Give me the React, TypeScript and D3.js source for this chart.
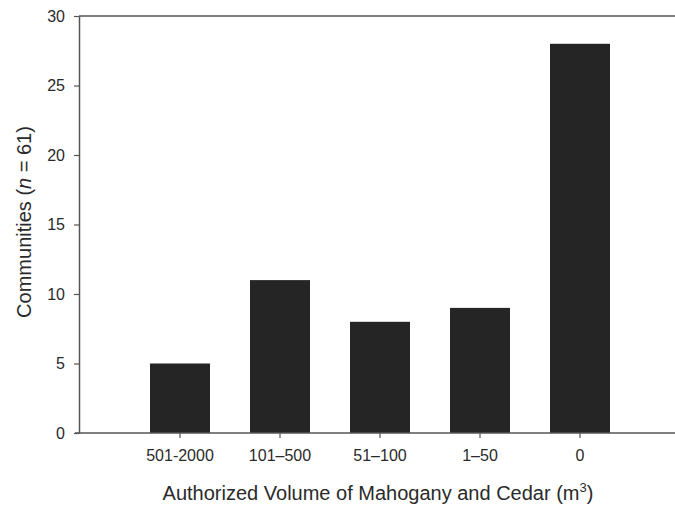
import { useEffect, useRef } from "react";
import * as d3 from "d3";

// data
const categories = ["501-2000", "101\u2013500", "51\u2013100", "1\u201350", "0"];
const communities = [5, 11, 8, 9, 28];
const yTicks = [0, 5, 10, 15, 20, 25, 30];

export default function App() {
  const ref = useRef<SVGSVGElement>(null);
  const width = 675;
  const height = 505;

  useEffect(() => {
    if (!ref.current) return;
    const svg = d3.select(ref.current);
    svg.selectAll("*").remove();

    const left = 79, right = 675, top = 16, bottom = 433;
    const axisColor = "#555";
    const font = "Liberation Sans, Arial, sans-serif";

    const x = d3.scaleBand<string>()
      .domain(categories)
      .range([130, 630])
      .paddingInner(0.4)
      .paddingOuter(0.2);

    const y = d3.scaleLinear().domain([0, 30]).range([bottom, top]);

    svg.append("rect").attr("width", width).attr("height", height).attr("fill", "#fff");

    // bars
    svg.selectAll("rect.bar")
      .data(communities)
      .join("rect")
      .attr("class", "bar")
      .attr("x", (_, i) => x(categories[i])!)
      .attr("y", (d) => y(d))
      .attr("width", x.bandwidth())
      .attr("height", (d) => bottom - y(d))
      .attr("fill", "#252525");

    // top frame line
    svg.append("line")
      .attr("x1", left).attr("x2", right)
      .attr("y1", top).attr("y2", top)
      .attr("stroke", axisColor).attr("stroke-width", 1.5);

    // y axis
    const yAxis = svg.append("g")
      .attr("transform", `translate(${left},0)`)
      .call(d3.axisLeft(y).tickValues(yTicks).tickSize(5).tickPadding(9).tickSizeOuter(0));
    yAxis.select(".domain").attr("stroke", axisColor).attr("stroke-width", 1.5);
    yAxis.selectAll(".tick line").attr("stroke", axisColor).attr("stroke-width", 1.2);
    yAxis.selectAll("text")
      .attr("fill", "#2a2a2a")
      .style("font-family", font)
      .style("font-size", "16px");

    // x axis
    const xAxis = svg.append("g")
      .attr("transform", `translate(0,${bottom})`)
      .call(d3.axisBottom(x).tickSize(5).tickPadding(12).tickSizeOuter(0));
    xAxis.select(".domain").attr("d", `M${left - 4},0H${right}`)
      .attr("stroke", axisColor).attr("stroke-width", 1.5);
    xAxis.selectAll(".tick line").attr("stroke", axisColor).attr("stroke-width", 1.2);
    xAxis.selectAll("text")
      .attr("fill", "#2a2a2a")
      .style("font-family", font)
      .style("font-size", "16px");

    // axis titles
    const xt = svg.append("text")
      .attr("x", 378).attr("y", 500)
      .attr("text-anchor", "middle")
      .attr("fill", "#2a2a2a")
      .style("font-family", font)
      .style("font-size", "20px");
    xt.append("tspan").text("Authorized Volume of Mahogany and Cedar (m");
    xt.append("tspan").attr("dy", -8).style("font-size", "13px").text("3");
    xt.append("tspan").attr("dy", 8).text(")");

    const yt = svg.append("text")
      .attr("transform", `translate(31,222) rotate(-90)`)
      .attr("text-anchor", "middle")
      .attr("fill", "#2a2a2a")
      .style("font-family", font)
      .style("font-size", "20px");
    yt.append("tspan").text("Communities (");
    yt.append("tspan").style("font-style", "italic").text("n");
    yt.append("tspan").text(" = 61)");
  }, []);

  return (
    <svg
      ref={ref}
      width={width}
      height={height}
      style={{ position: "absolute", left: 0, top: 0, display: "block" }}
    />
  );
}
